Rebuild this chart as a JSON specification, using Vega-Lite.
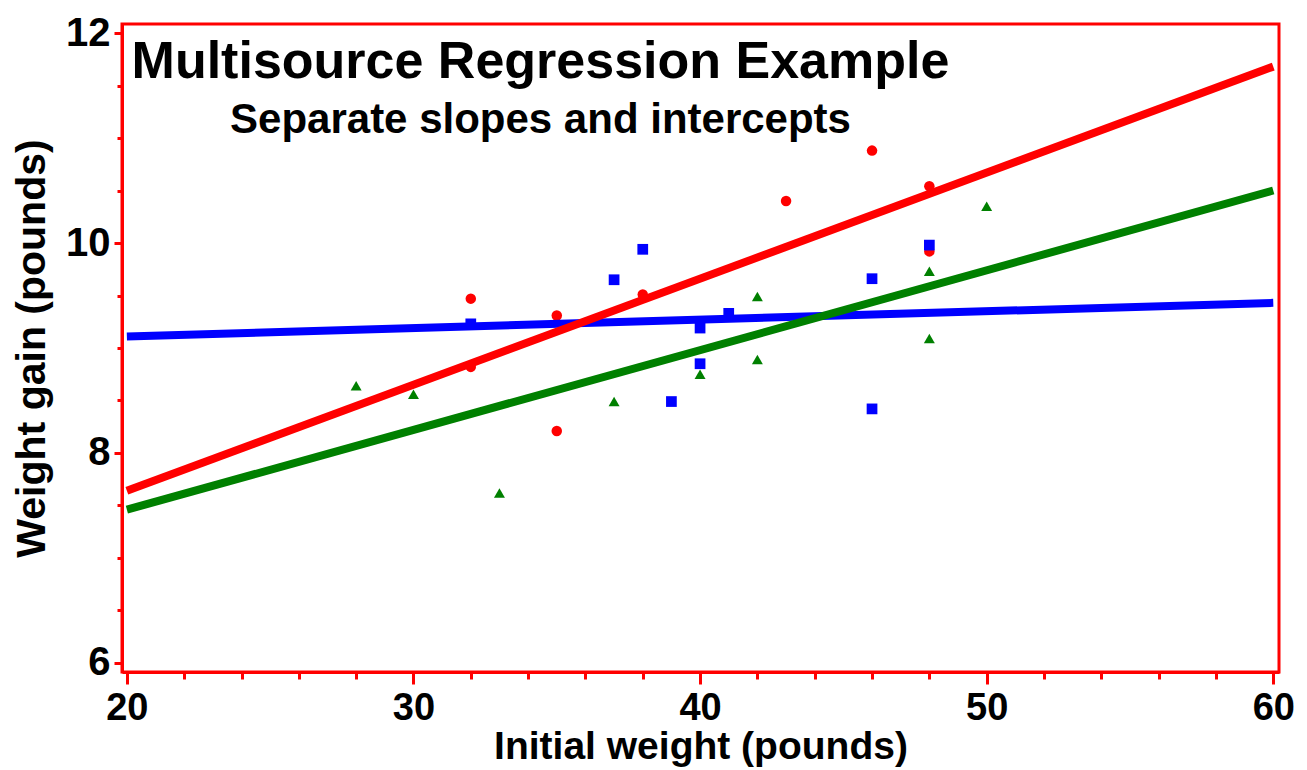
{
  "$schema": "https://vega.github.io/schema/vega-lite/v6.json",
  "width": 1157,
  "height": 648,
  "autosize": {"type": "none"},
  "padding": {"left": 122, "top": 24, "right": 28, "bottom": 98},
  "background": "white",
  "title": {
    "text": "Multisource Regression Example",
    "subtitle": "Separate slopes and intercepts",
    "anchor": "middle",
    "frame": "group",
    "dx": -160,
    "offset": -129,
    "font": "Liberation Sans",
    "fontSize": 52,
    "fontWeight": "bold",
    "color": "black",
    "subtitleFont": "Liberation Sans",
    "subtitleFontSize": 42,
    "subtitleFontWeight": "bold",
    "subtitleColor": "black",
    "subtitlePadding": 11
  },
  "config": {
    "view": {"stroke": "#ff0000", "strokeWidth": 3},
    "axis": {
      "domainColor": "#ff0000",
      "domainWidth": 3,
      "tickColor": "#ff0000",
      "tickWidth": 3,
      "grid": false,
      "labelFont": "Liberation Sans",
      "labelFontWeight": "bold",
      "labelColor": "black",
      "labelFontSize": 40,
      "titleFont": "Liberation Sans",
      "titleFontWeight": "bold",
      "titleColor": "black",
      "titleFontSize": 41
    }
  },
  "datasets": {
    "points": [
      {"source": "A", "weight": 32, "gain": 9.47},
      {"source": "A", "weight": 32, "gain": 8.82},
      {"source": "A", "weight": 35, "gain": 9.31},
      {"source": "A", "weight": 35, "gain": 8.21},
      {"source": "A", "weight": 38, "gain": 9.51},
      {"source": "A", "weight": 43, "gain": 10.40},
      {"source": "A", "weight": 46, "gain": 10.88},
      {"source": "A", "weight": 48, "gain": 10.54},
      {"source": "A", "weight": 48, "gain": 9.92},
      {"source": "B", "weight": 32, "gain": 9.23},
      {"source": "B", "weight": 37, "gain": 9.65},
      {"source": "B", "weight": 38, "gain": 9.94},
      {"source": "B", "weight": 39, "gain": 8.49},
      {"source": "B", "weight": 40, "gain": 9.19},
      {"source": "B", "weight": 40, "gain": 8.85},
      {"source": "B", "weight": 41, "gain": 9.33},
      {"source": "B", "weight": 46, "gain": 9.66},
      {"source": "B", "weight": 46, "gain": 8.42},
      {"source": "B", "weight": 48, "gain": 9.98},
      {"source": "C", "weight": 28, "gain": 8.64},
      {"source": "C", "weight": 30, "gain": 8.56},
      {"source": "C", "weight": 33, "gain": 7.62},
      {"source": "C", "weight": 37, "gain": 8.49},
      {"source": "C", "weight": 40, "gain": 8.75},
      {"source": "C", "weight": 42, "gain": 9.49},
      {"source": "C", "weight": 42, "gain": 8.89},
      {"source": "C", "weight": 48, "gain": 9.73},
      {"source": "C", "weight": 48, "gain": 9.09},
      {"source": "C", "weight": 50, "gain": 10.35}
    ],
    "fits": [
      {"source": "B", "weight": 20, "gain": 9.11},
      {"source": "B", "weight": 60, "gain": 9.43},
      {"source": "C", "weight": 20, "gain": 7.46},
      {"source": "C", "weight": 60, "gain": 10.50},
      {"source": "A", "weight": 20, "gain": 7.64},
      {"source": "A", "weight": 60, "gain": 11.68}
    ]
  },
  "encoding": {
    "x": {
      "field": "weight",
      "type": "quantitative",
      "scale": {"domain": [19.83, 60.2], "nice": false, "zero": false},
      "axis": {
        "title": "Initial weight (pounds)",
        "values": [20,22,24,26,28,30,32,34,36,38,40,42,44,46,48,50,52,54,56,58,60],
        "labelExpr": "datum.value % 10 === 0 ? datum.label : ''",
        "tickSize": {"condition": {"test": "datum.value % 10 === 0", "value": 12}, "value": 7},
        "labelFontSize": 38,
        "labelPadding": 5,
        "labelFlush": false,
        "labelOverlap": false,
        "titleFontSize": 39,
        "titlePadding": 0
      }
    },
    "y": {
      "field": "gain",
      "type": "quantitative",
      "scale": {"domain": [5.914, 12.086], "nice": false, "zero": false},
      "axis": {
        "title": "Weight gain (pounds)",
        "values": [6,6.5,7,7.5,8,8.5,9,9.5,10,10.5,11,11.5,12],
        "labelExpr": "datum.value % 2 === 0 ? format(datum.value, 'd') : ''",
        "tickSize": {"condition": {"test": "datum.value % 2 === 0", "value": 8}, "value": 5},
        "labelPadding": 4,
        "labelOverlap": false,
        "labelFlush": false,
        "titlePadding": 12
      }
    },
    "color": {
      "field": "source",
      "type": "nominal",
      "scale": {"domain": ["A", "B", "C"], "range": ["#ff0000", "#0000ff", "#008000"]},
      "legend": null
    }
  },
  "layer": [
    {
      "data": {"name": "points"},
      "mark": {"type": "point", "filled": true, "opacity": 1},
      "encoding": {
        "shape": {
          "field": "source",
          "type": "nominal",
          "scale": {"domain": ["A", "B", "C"], "range": ["circle", "square", "triangle-up"]},
          "legend": null
        },
        "size": {
          "field": "source",
          "type": "nominal",
          "scale": {"domain": ["A", "B", "C"], "range": [110, 120, 180]},
          "legend": null
        }
      }
    },
    {
      "data": {"name": "fits"},
      "mark": {"type": "line", "strokeWidth": 8, "strokeCap": "butt"},
      "encoding": {"detail": {"field": "source"}}
    }
  ]
}
